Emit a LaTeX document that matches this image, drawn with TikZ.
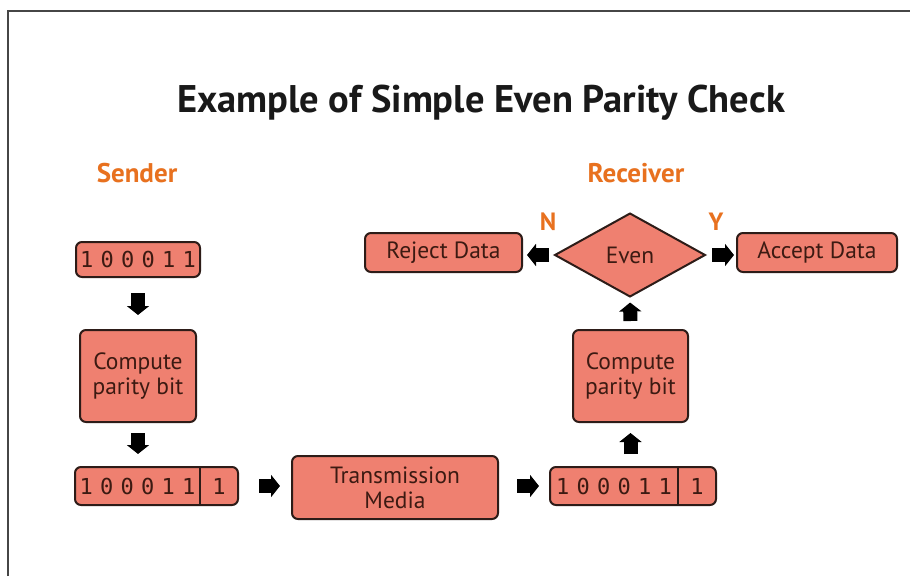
\documentclass[tikz,border=0pt]{standalone}
\usepackage{fontspec}
\setmainfont{PT Sans}
\newfontfamily\monof{DejaVu Sans Mono}
\usetikzlibrary{shapes.geometric,arrows.meta}
\definecolor{boxfill}{RGB}{239,128,112}
\definecolor{boxline}{RGB}{45,28,24}
\definecolor{boxtext}{RGB}{60,26,18}
\definecolor{headorange}{RGB}{232,113,31}
\definecolor{framegray}{RGB}{70,70,70}
\newcommand{\dg}[1]{\makebox[20.5pt]{#1}}
\newcommand{\bitrow}{\dg{1}\dg{0}\dg{0}\dg{0}\dg{1}\dg{1}}
\tikzset{
  box/.style={draw=boxline, fill=boxfill, line width=2pt, rounded corners=6pt,
    text=boxtext, font=\fontsize{23.5}{25}\selectfont, align=center, inner sep=0pt},
  bittext/.style={text=boxtext, font=\monof\fontsize{22}{24}\selectfont, inner sep=0pt},
  blk/.style={line width=14pt, -{Triangle[length=9pt,width=22pt]}, black},
  head/.style={text=headorange, font=\bfseries\fontsize{27}{30}\selectfont},
}
\begin{document}
\begin{tikzpicture}[x=1pt,y=-1pt]
\useasboundingbox (0,0) rectangle (910,576);
\fill[white] (0,0) rectangle (910,576);
\draw[framegray, line width=2pt] (8,576) -- (8,11) -- (910,11);

\node[font=\bfseries\fontsize{38.5}{42}\selectfont, text=black!90] (title) at (481,103) {Example of Simple Even Parity Check};
\node[head] (sender) at (137,173) {Sender};
\node[head] (receiver) at (636,173) {Receiver};

% sender side
\node[box, minimum width=124pt, minimum height=35pt] (b1) at (138,259.5) {};
\node[bittext] (b1t) at (b1.center) {\bitrow};
\node[box, minimum width=116pt, minimum height=92pt] (cp1) at (138,376) {Compute\\parity bit};
\node[box, minimum width=163pt, minimum height=38pt] (b2) at (156.5,486) {};
\node[bittext] (b2t) at (137.5,486) {\bitrow};
\node[bittext] (b2p) at (219,486) {\dg{1}};
\draw[boxline, line width=2pt] (200,467) -- (200,505);

\node[box, minimum width=206pt, minimum height=63pt] (tm) at (395,487.5) {Transmission\\Media};

% receiver side
\node[box, minimum width=166pt, minimum height=38pt] (rb) at (633,486) {};
\node[bittext] (rbt) at (614,486) {\bitrow};
\node[bittext] (rbp) at (697,486) {\dg{1}};
\draw[boxline, line width=2pt] (678,467) -- (678,505);

\node[box, minimum width=115pt, minimum height=92pt] (cp2) at (630.5,376) {Compute\\parity bit};
\node[box, diamond, rounded corners=0pt, minimum width=150pt, minimum height=83pt, outer sep=0pt] (ev) at (630,255) {Even};
\node[box, minimum width=157pt, minimum height=39pt] (rej) at (443.5,252.5) {Reject Data};
\node[box, minimum width=160pt, minimum height=39pt] (acc) at (817,252.5) {Accept Data};

\node[head, font=\bfseries\fontsize{25}{28}\selectfont] (nlab) at (548,222) {N};
\node[head, font=\bfseries\fontsize{25}{28}\selectfont] (ylab) at (716,222) {Y};

% block arrows
\draw[blk, shorten <=15pt, shorten >=14pt] (b1.south) -- (cp1.north);
\draw[blk, shorten <=10pt, shorten >=12pt] (cp1.south) -- (cp1.south |- b2.north);
\draw[blk, shorten <=20pt, shorten >=11pt] (b2.east) -- (tm.west |- b2.east);
\draw[blk, shorten <=18pt, shorten >=10pt] (tm.east |- rb.west) -- (rb.west);
\draw[blk, shorten <=12pt, shorten >=10pt] (cp2.south |- rb.north) -- (cp2.south);
\draw[blk, shorten <=8pt, shorten >=6pt] (cp2.north) -- (ev.south);
\draw[blk, shorten <=6pt, shorten >=4pt] (ev.west) -- (rej.east |- ev.west);
\draw[blk, shorten <=7pt, shorten >=2pt] (ev.east) -- (acc.west |- ev.east);
\end{tikzpicture}
\end{document}
